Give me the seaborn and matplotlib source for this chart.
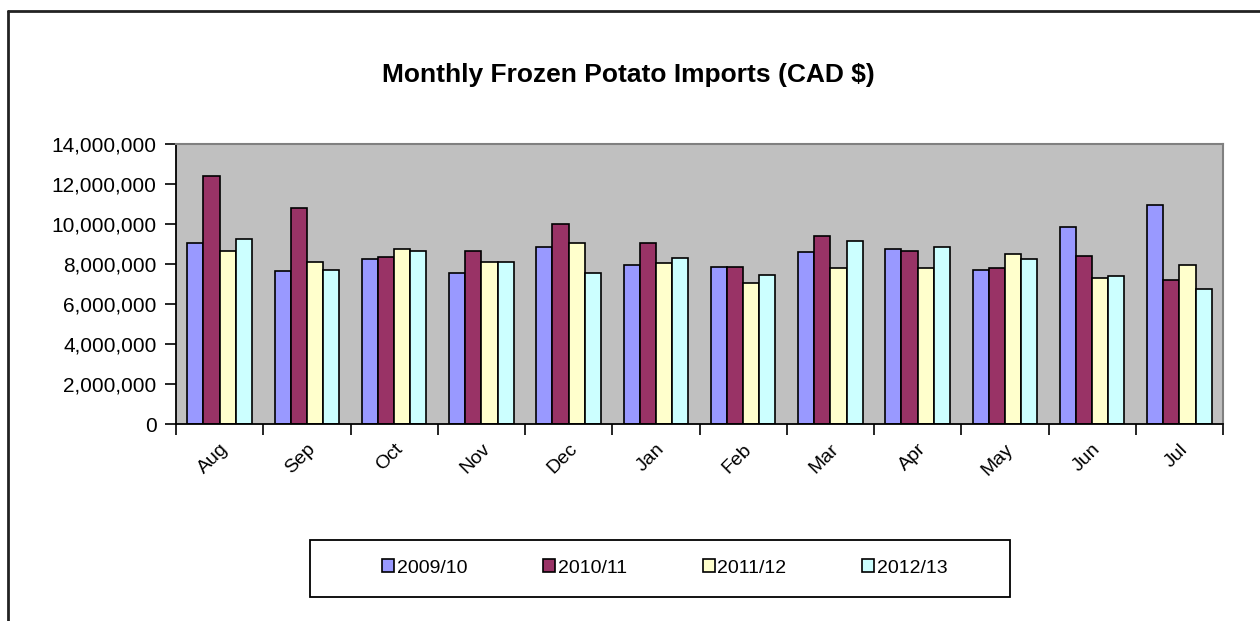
import numpy as np
import pandas as pd
import seaborn as sns
import matplotlib
matplotlib.use("Agg")
from matplotlib import pyplot as plt
from matplotlib.ticker import FuncFormatter
from matplotlib.patches import Rectangle
from matplotlib.lines import Line2D

### values (CAD $)
months = ['Aug', 'Sep', 'Oct', 'Nov', 'Dec', 'Jan', 'Feb', 'Mar', 'Apr', 'May', 'Jun', 'Jul']
seasons = ['2009/10', '2010/11', '2011/12', '2012/13']
imp_0910 = [9060000, 7640000, 8270000, 7560000, 8840000, 7960000, 7870000, 8590000, 8760000, 7710000, 9860000, 10970000]
imp_1011 = [12420000, 10820000, 8370000, 8670000, 10020000, 9070000, 7870000, 9390000, 8670000, 7790000, 8420000, 7220000]
imp_1112 = [8670000, 8110000, 8770000, 8110000, 9070000, 8040000, 7070000, 7790000, 7790000, 8510000, 7320000, 7960000]
imp_1213 = [9240000, 7710000, 8670000, 8110000, 7560000, 8290000, 7470000, 9160000, 8840000, 8270000, 7410000, 6760000]
colors = ['#9999FF', '#993366', '#FFFFCC', '#CCFFFF']

df = pd.DataFrame({'month': months,
                   seasons[0]: imp_0910, seasons[1]: imp_1011,
                   seasons[2]: imp_1112, seasons[3]: imp_1213})
long = df.melt(id_vars='month', var_name='season', value_name='cad')

sns.set_theme(style="white")
plt.rcParams['font.family'] = ['Liberation Sans', 'DejaVu Sans']
plt.rcParams['text.color'] = 'black'
plt.rcParams['xtick.color'] = 'black'
plt.rcParams['ytick.color'] = 'black'

fig = plt.figure(figsize=(12.6, 6.21), dpi=100)
ax = fig.add_axes([176/1260, 1-424/621, 1047/1260, 280/621])
sns.barplot(data=long, x='month', y='cad', hue='season', hue_order=seasons,
            palette=colors, saturation=1, width=0.74, errorbar=None,
            edgecolor='black', linewidth=1.2, ax=ax)
ax.set_facecolor('#C0C0C0')

ax.set_xlim(-0.5, 11.5)
ax.set_ylim(0, 14000000)
ax.set_yticks(np.arange(0, 14000001, 2000000))
ax.yaxis.set_major_formatter(FuncFormatter(lambda v, p: f'{v:,.0f}'))
ax.set_xticks(range(12))
ax.set_xticks(np.arange(-0.5, 12, 1), minor=True)
ax.tick_params(axis='x', which='major', length=0, pad=12, labelsize=14, labelcolor='black')
ax.tick_params(axis='x', which='minor', length=8, width=1.2, color='black', direction='out', bottom=True)
ax.tick_params(axis='y', length=8, width=1.2, color='black', direction='out', left=True,
               labelsize=15, labelcolor='black', pad=6)
for lab in ax.get_xticklabels():
    lab.set_rotation(45)
    lab.set_ha('right')
    lab.set_rotation_mode('anchor')
ax.set_xlabel('')
ax.set_ylabel('')

for s in ['left', 'bottom']:
    ax.spines[s].set_color('black')
    ax.spines[s].set_linewidth(1.3)
for s in ['top', 'right']:
    ax.spines[s].set_color('#808080')
    ax.spines[s].set_linewidth(1.5)

fig.text(628/1260, 1-75/621, 'Monthly Frozen Potato Imports (CAD $)',
         ha='center', va='center', fontsize=19, fontweight='bold', color='black')

handles, labels = ax.get_legend_handles_labels()
ax.get_legend().remove()
leg = fig.legend(handles, labels, ncol=4, loc='center', bbox_to_anchor=(665/1260, 1-568/621),
                 frameon=False, handlelength=0.6, handleheight=0.6, handletextpad=0.15,
                 columnspacing=3.9, fontsize=14)
fig.add_artist(Rectangle((310/1260, 1-597/621), 700/1260, 57/621, transform=fig.transFigure,
                         fill=False, edgecolor='black', lw=1.3))

# outer chart border (left and top only visible)
fig.add_artist(Line2D([8/1260, 8/1260], [0, 1-11/621], transform=fig.transFigure, color='#222222', lw=2))
fig.add_artist(Line2D([8/1260, 1], [1-11/621, 1-11/621], transform=fig.transFigure, color='#222222', lw=2))

fig.savefig('out.png', dpi=100)
